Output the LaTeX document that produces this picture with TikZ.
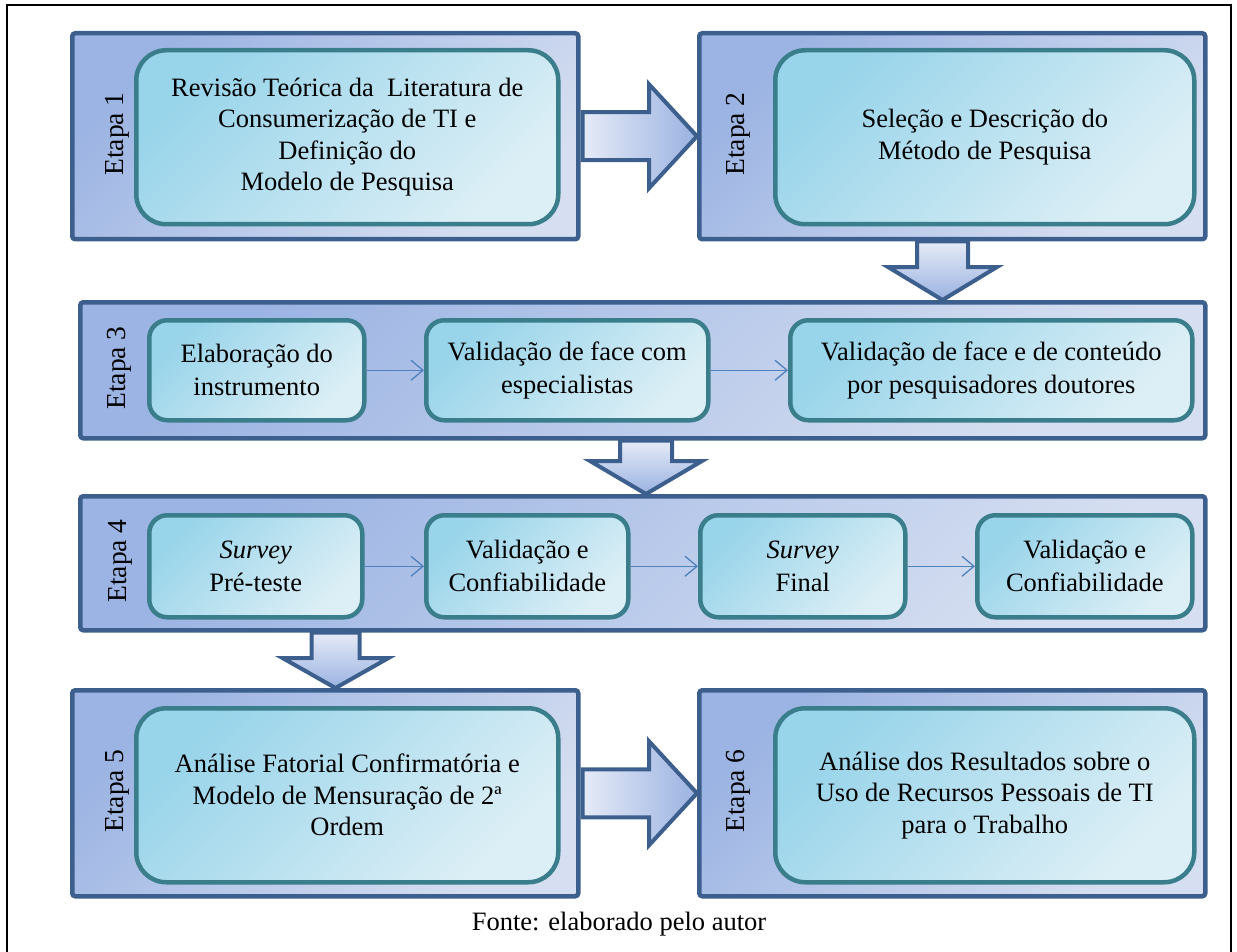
\documentclass[tikz,border=0pt]{standalone}
\usepackage{fontspec}
\setmainfont{Liberation Serif}
\usetikzlibrary{arrows.meta,calc}

\definecolor{stageLine}{HTML}{3C5F8E}
\definecolor{stageA}{HTML}{9CB4E3}
\definecolor{stageB}{HTML}{D6DFF1}
\definecolor{taskLine}{HTML}{3A7E8C}
\definecolor{taskA}{HTML}{98D4EA}
\definecolor{taskB}{HTML}{DDEFF6}
\definecolor{flowLine}{HTML}{4F81BD}
\definecolor{bigA}{HTML}{E6EBF7}
\definecolor{bigB}{HTML}{9AB2E1}

\tikzset{
  stage/.style={draw=stageLine, line width=4.5pt, rounded corners=3pt,
    top color=stageA, bottom color=stageB, shading angle=45,
    anchor=north west, inner sep=0pt},
  task/.style={draw=taskLine, line width=4.5pt,
    top color=taskA, bottom color=taskB, shading angle=45,
    anchor=north west, inner sep=0pt, align=center,
    font=\fontsize{26.5}{31.5}\selectfont},
  bigtask/.style={task, rounded corners=30pt},
  smalltask/.style={task, rounded corners=18pt,
    font=\fontsize{26.5}{33}\selectfont},
  stagelabel/.style={rotate=90, font=\fontsize{27.5}{30}\selectfont},
  bigarrow/.style={draw=stageLine, line width=4pt, line join=miter},
  flow/.style={draw=flowLine, line width=1.3pt,
    -{Straight Barb[length=12pt,width=20pt,line width=1.3pt]}},
}

\begin{document}
\begin{tikzpicture}[x=1pt, y=-1pt]
\useasboundingbox (0,0) rectangle (1237,952);

% surrounding frame, open at the bottom
\draw[line width=2pt] (7,952) -- (7,5) -- (1231,5) -- (1231,952);

% ---- stage containers
\node[stage, minimum width=506pt, minimum height=206pt] (s1) at (70,31) {};
\node[stage, minimum width=506pt, minimum height=206pt] (s2) at (697,31) {};
\node[stage, minimum width=1125pt, minimum height=136pt] (s3) at (78,300) {};
\node[stage, minimum width=1125pt, minimum height=134pt] (s4) at (78,494) {};
\node[stage, minimum width=506pt, minimum height=206pt] (s5) at (70,688) {};
\node[stage, minimum width=506pt, minimum height=206pt] (s6) at (697,688) {};

% ---- stage labels
\node[stagelabel] (l1) at (117,134) {Etapa 1};
\node[stagelabel] (l2) at (738,134) {Etapa 2};
\node[stagelabel] (l3) at (119,368) {Etapa 3};
\node[stagelabel] (l4) at (120,561) {Etapa 4};
\node[stagelabel] (l5) at (117,791) {Etapa 5};
\node[stagelabel] (l6) at (738,791) {Etapa 6};

% ---- activities
\node[bigtask, minimum width=422pt, minimum height=174pt] (t1) at (134,48)
  {Revisão Teórica da \ Literatura de\\Consumerização de TI e\\Definição do\\Modelo de Pesquisa};
\node[bigtask, minimum width=419pt, minimum height=174pt] (t2) at (773,48)
  {Seleção e Descrição do\\Método de Pesquisa};

\node[smalltask, minimum width=215pt, minimum height=100pt] (t31) at (147,318)
  {Elaboração do\\instrumento};
\node[smalltask, minimum width=282pt, minimum height=100pt] (t32) at (424,318)
  {Validação de face com\\especialistas};
\node[smalltask, minimum width=402pt, minimum height=100pt] (t33) at (788,318)
  {Validação de face e de conteúdo\\por pesquisadores doutores};

\node[smalltask, minimum width=213pt, minimum height=102pt] (t41) at (147,513)
  {\textit{Survey}\\Pré-teste};
\node[smalltask, minimum width=202pt, minimum height=102pt] (t42) at (424,513)
  {Validação e\\Confiabilidade};
\node[smalltask, minimum width=205pt, minimum height=102pt] (t43) at (698,513)
  {\textit{Survey}\\Final};
\node[smalltask, minimum width=215pt, minimum height=102pt] (t44) at (975,513)
  {Validação e\\Confiabilidade};

\node[bigtask, minimum width=422pt, minimum height=174pt] (t5) at (134,706)
  {Análise Fatorial Confirmatória e\\Modelo de Mensuração de 2ª\\Ordem};
\node[bigtask, minimum width=419pt, minimum height=174pt] (t6) at (773,706)
  {Análise dos Resultados sobre o\\Uso de Recursos Pessoais de TI\\para o Trabalho};

% ---- flow inside stages
\draw[flow] (t31) -- (t32);
\draw[flow] (t32) -- (t33);
\draw[flow] (t41) -- (t42);
\draw[flow] (t42) -- (t43);
\draw[flow] (t43) -- (t44);

% ---- block arrows between stages
% Etapa 1 -> Etapa 2
\coordinate (a1s) at ($(s1.east)+(2,0)$);
\coordinate (a1t) at (s2.west);
\draw[bigarrow, left color=bigA, right color=bigB]
  ($(a1s)+(0,-24)$) -- ($(a1t)+(-48,-24)$) -- ($(a1t)+(-48,-52)$) -- (a1t)
  -- ($(a1t)+(-48,52)$) -- ($(a1t)+(-48,24)$) -- ($(a1s)+(0,24)$) -- cycle;

% Etapa 5 -> Etapa 6
\coordinate (a5s) at ($(s5.east)+(2,0)$);
\coordinate (a5t) at (s6.west);
\draw[bigarrow, left color=bigA, right color=bigB]
  ($(a5s)+(0,-24)$) -- ($(a5t)+(-48,-24)$) -- ($(a5t)+(-48,-52)$) -- (a5t)
  -- ($(a5t)+(-48,52)$) -- ($(a5t)+(-48,24)$) -- ($(a5s)+(0,24)$) -- cycle;

% Etapa 2 -> Etapa 3
\coordinate (d2s) at (942.5,0 |- s2.south);
\coordinate (d2t) at (942.5,0 |- s3.north);
\draw[bigarrow, top color=bigA, bottom color=bigB]
  ($(d2s)+(-25.5,0)$) -- ($(d2t)+(-25.5,-33)$) -- ($(d2t)+(-54.5,-33)$) -- (d2t)
  -- ($(d2t)+(54.5,-33)$) -- ($(d2t)+(25.5,-33)$) -- ($(d2s)+(25.5,0)$) -- cycle;

% Etapa 3 -> Etapa 4
\coordinate (d3s) at (646,0 |- s3.south);
\coordinate (d3t) at (646,0 |- s4.north);
\draw[bigarrow, top color=bigA, bottom color=bigB]
  ($(d3s)+(-26,0)$) -- ($(d3t)+(-26,-33)$) -- ($(d3t)+(-56,-33)$) -- (d3t)
  -- ($(d3t)+(56,-33)$) -- ($(d3t)+(26,-33)$) -- ($(d3s)+(26,0)$) -- cycle;

% Etapa 4 -> Etapa 5
\coordinate (d4s) at (335.5,0 |- s4.south);
\coordinate (d4t) at (335.5,0 |- s5.north);
\draw[bigarrow, top color=bigA, bottom color=bigB]
  ($(d4s)+(-24,0)$) -- ($(d4t)+(-24,-30)$) -- ($(d4t)+(-53,-30)$) -- (d4t)
  -- ($(d4t)+(53,-30)$) -- ($(d4t)+(24,-30)$) -- ($(d4s)+(24,0)$) -- cycle;

% ---- source line
\node[font=\fontsize{26.5}{28}\selectfont] (src) at (619,924) {Fonte: elaborado pelo autor};
\end{tikzpicture}
\end{document}
